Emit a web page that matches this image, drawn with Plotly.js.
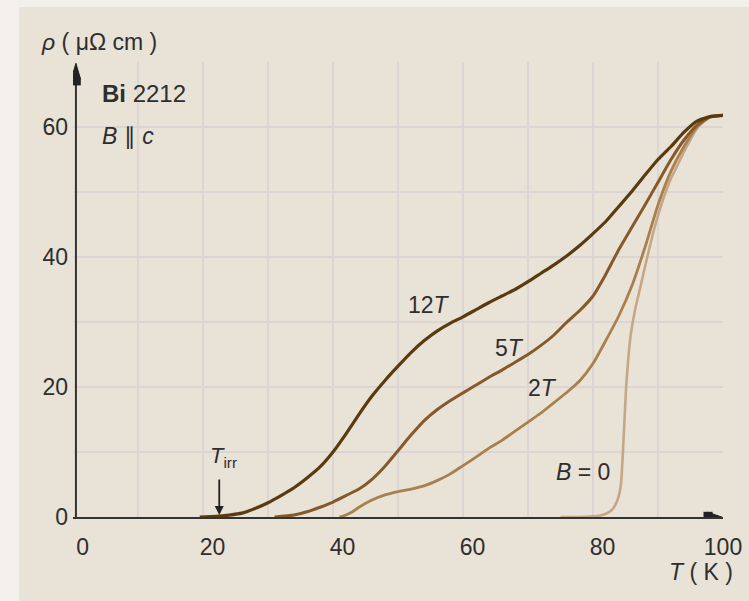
<!DOCTYPE html>
<html>
<head>
<meta charset="utf-8">
<script src="https://cdn.plot.ly/plotly-3.0.1.min.js"></script>
<style>html,body{margin:0;padding:0;background:#f3f0eb;}#chart{width:749px;height:601px;}</style>
</head>
<body>
<div id="chart"></div>
<script>
// Temperature T (K) and resistivity rho (µΩ cm) for each field
const T_12T = [19.5, 22, 24, 26, 28, 30, 32, 34, 36, 38, 40, 42, 44, 46, 48, 50, 52, 54, 56, 58, 60, 62, 64, 66, 68, 70, 72, 74, 76, 78, 80, 82, 84, 86, 88, 90, 92, 94, 96, 98, 100];
const rho_12T = [0, 0.1, 0.3, 0.6, 1.3, 2.2, 3.3, 4.5, 6.0, 7.7, 10.0, 12.8, 15.8, 18.6, 21.0, 23.2, 25.3, 27.1, 28.6, 29.8, 30.8, 31.9, 33.0, 34.0, 35.0, 36.2, 37.5, 38.8, 40.2, 41.8, 43.6, 45.5, 47.8, 50.1, 52.6, 55.0, 57.0, 59.2, 60.9, 61.6, 61.8];

const T_5T = [31, 34, 36, 38, 40, 42, 44, 46, 48, 50, 52, 54, 56, 58, 60, 62, 64, 66, 68, 70, 72, 74, 76, 78, 80, 82, 84, 86, 88, 90, 92, 94, 96, 98, 100];
const rho_5T = [0, 0.3, 0.8, 1.5, 2.3, 3.3, 4.3, 5.8, 7.8, 10.2, 12.6, 14.8, 16.5, 17.9, 19.1, 20.3, 21.5, 22.6, 23.8, 25.0, 26.4, 28.0, 30.0, 31.8, 34.0, 37.4, 41.2, 44.6, 48.0, 51.5, 55.0, 58.0, 60.3, 61.6, 61.8];

const T_2T = [41, 42, 43, 44, 46, 48, 50, 52, 54, 56, 58, 60, 62, 64, 66, 68, 70, 72, 74, 76, 78, 80, 82, 84, 86, 88, 90, 92, 94, 96, 98, 100];
const rho_2T = [0, 0.3, 0.8, 1.5, 2.6, 3.4, 3.9, 4.3, 4.8, 5.6, 6.6, 7.9, 9.2, 10.6, 11.8, 13.2, 14.6, 16.0, 17.6, 19.2, 21.0, 23.6, 27.2, 31.0, 35.6, 41.5, 48.0, 53.2, 57.0, 60.0, 61.5, 61.8];

const T_0T = [75, 78, 80, 81, 82, 82.8, 83.4, 83.9, 84.3, 84.5, 84.7, 84.9, 85.1, 85.4, 85.8, 86.5, 87.2, 88.0, 88.5, 89.2, 89.8, 90.5, 91.3, 92.1, 92.9, 93.8, 94.7, 95.5, 96.2, 97.5, 98.5, 100];
const rho_0T = [0, 0, 0.1, 0.2, 0.5, 1.0, 1.8, 3.0, 5.0, 8.0, 12.0, 16.0, 20.0, 24.0, 28.0, 32.0, 35.0, 38.5, 40.6, 43.5, 45.7, 48.0, 50.3, 52.3, 53.9, 55.8, 57.5, 59.0, 60.0, 61.3, 61.6, 61.8];

const xTicks = [0, 20, 40, 60, 80, 100];
const yTicks = [0, 20, 40, 60];

const FONT = 'Liberation Sans, Arial, sans-serif';
const TXT = '#2e2e2e';
const NB = '\u00a0';

function curve(x, y, color, w) {
  return {x: x, y: y, type: 'scatter', mode: 'lines', line: {color: color, width: w, shape: 'spline', smoothing: 0.5}, hoverinfo: 'skip', showlegend: false};
}

const data = [
  curve(T_0T, rho_0T, '#c6a785', 2.6),
  curve(T_2T, rho_2T, '#a8804e', 2.8),
  curve(T_5T, rho_5T, '#85592a', 3),
  curve(T_12T, rho_12T, '#5a3a0e', 3.2)
];

const gridColor = '#ddd5d3';
// labels sit slightly right of their gridlines except the last (as in the original figure)
const xTickText = xTicks.map(v => v === 100 ? String(v) : NB.repeat(3) + String(v));

const layout = {
  width: 749, height: 601,
  margin: {l: 73, r: 26, t: 62, b: 84},
  paper_bgcolor: '#f3f0eb',
  plot_bgcolor: '#f7f7f5',
  font: {family: FONT, size: 23, color: TXT},
  xaxis: {
    range: [0, 100], tickvals: xTicks, ticktext: xTickText,
    showgrid: true, gridcolor: gridColor, gridwidth: 1.5,
    minor: {dtick: 10, tick0: 0, showgrid: true, gridcolor: gridColor, gridwidth: 1.5},
    showline: true, linecolor: '#333', linewidth: 2,
    zeroline: false, ticks: '', ticklabelstandoff: 8,
    tickfont: {family: FONT, size: 23, color: TXT}, fixedrange: true
  },
  yaxis: {
    range: [0, 70], tickvals: yTicks, ticktext: yTicks.map(String),
    showgrid: true, gridcolor: gridColor, gridwidth: 1.5,
    minor: {dtick: 10, tick0: 0, showgrid: true, gridcolor: gridColor, gridwidth: 1.5},
    showline: false, zeroline: false, ticks: '', ticklabelstandoff: 4,
    tickfont: {family: FONT, size: 23, color: TXT}, fixedrange: true
  },
  shapes: [
    {type: 'rect', xref: 'paper', yref: 'paper', x0: -0.083, x1: 1.06, y0: -0.2, y1: 1.121, fillcolor: '#e9e2d7', line: {width: 0}, layer: 'below'},
    {type: 'line', xref: 'x', yref: 'y', x0: 0.45, x1: 0.45, y0: 0, y1: 68, line: {color: '#333', width: 2}},
    {type: 'path', xref: 'x', yref: 'y', path: 'M 0.45 69.8 L -0.25 67.4 L 1.15 67.4 Z', fillcolor: '#222', line: {color: '#222', width: 1}},
    {type: 'rect', xref: 'x', yref: 'y', x0: -0.3, x1: 1.2, y0: 66.4, y1: 67.6, fillcolor: '#222', line: {width: 0}},
    {type: 'path', xref: 'x', yref: 'y', path: 'M 99.8 0 L 97.6 0.75 L 97.6 -0.75 Z', fillcolor: '#222', line: {color: '#222', width: 1}},
    {type: 'rect', xref: 'x', yref: 'y', x0: 97.0, x1: 98.4, y0: -0.8, y1: 0.8, fillcolor: '#222', line: {width: 0}}
  ],
  annotations: [
    {xref: 'paper', yref: 'paper', x: -0.052, y: 1.044, xanchor: 'left', yanchor: 'middle', showarrow: false, text: '<i>ρ</i> ( μΩ cm )', font: {size: 23, color: TXT}},
    {xref: 'paper', yref: 'paper', x: 1.0185, y: -0.121, xanchor: 'right', yanchor: 'middle', showarrow: false, text: '<i>T</i> ( K )', font: {size: 23, color: TXT}},
    {xref: 'x', yref: 'y', x: 4.15, y: 65.1, xanchor: 'left', yanchor: 'middle', showarrow: false, text: '<b>Bi</b> 2212', font: {size: 24, color: TXT}},
    {xref: 'x', yref: 'y', x: 4.15, y: 58.6, xanchor: 'left', yanchor: 'middle', showarrow: false, text: '<i>B</i> ∥ <i>c</i>', font: {size: 23, color: TXT}},
    {xref: 'x', yref: 'y', x: 54.8, y: 32.6, showarrow: false, text: '12<i>T</i>', font: {size: 23, color: TXT}},
    {xref: 'x', yref: 'y', x: 67.1, y: 26.0, showarrow: false, text: '5<i>T</i>', font: {size: 23, color: TXT}},
    {xref: 'x', yref: 'y', x: 72.3, y: 19.8, showarrow: false, text: '2<i>T</i>', font: {size: 23, color: TXT}},
    {xref: 'x', yref: 'y', x: 78.5, y: 6.9, showarrow: false, text: '<i>B</i> = 0', font: {size: 23, color: TXT}},
    {xref: 'x', yref: 'y', x: 23.2, y: 9.2, showarrow: false, text: '<i>T</i><sub>irr</sub>', font: {size: 22, color: TXT}},
    {xref: 'x', yref: 'y', x: 22.5, y: 0.3, axref: 'x', ayref: 'y', ax: 22.5, ay: 6.0, text: '', showarrow: true, arrowhead: 2, arrowsize: 1, arrowwidth: 1.8, arrowcolor: '#222'}
  ]
};

Plotly.newPlot('chart', data, layout, {staticPlot: true, displayModeBar: false});
</script>
</body>
</html>
